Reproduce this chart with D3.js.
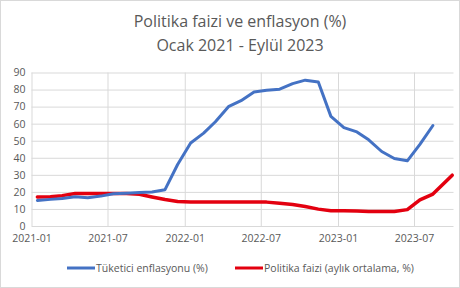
<!DOCTYPE html>
<html lang="tr">
<head>
<meta charset="UTF-8">
<title>Politika faizi ve enflasyon</title>
<script src="https://cdn.jsdelivr.net/npm/d3@7"></script>
<style>
  body { margin: 0; background: #fff; }
  svg text { font-family: "Open Sans", "Liberation Sans", sans-serif; fill: #595959; }
</style>
</head>
<body>
<div id="container"></div>
<script>
// months (data points sit mid-month)
const months = ["2021-01","2021-02","2021-03","2021-04","2021-05","2021-06","2021-07","2021-08","2021-09","2021-10","2021-11","2021-12",
  "2022-01","2022-02","2022-03","2022-04","2022-05","2022-06","2022-07","2022-08","2022-09","2022-10","2022-11","2022-12",
  "2023-01","2023-02","2023-03","2023-04","2023-05","2023-06","2023-07","2023-08","2023-09"]
// tuketici enflasyonu, yillik %
const cpi = [14.97,15.61,16.19,17.14,16.59,17.53,18.95,19.25,19.58,19.89,21.31,36.08,
  48.69,54.44,61.14,69.97,73.50,78.62,79.60,80.21,83.45,85.51,84.39,64.27,
  57.68,55.18,50.51,43.68,39.59,38.21,47.83,58.94]
// politika faizi, aylik ortalama %
const policy = [17,17.2,17.8,19,19,19,19,19,18.6,17,15.5,14.4,
  14,14,14,14,14,14,14,13.4,12.6,11.4,9.9,9,
  9,8.8,8.5,8.5,8.5,9.6,15.3,18.7,29.8]
// the last policy point is plotted at month end
const policyLastDate = "2023-09-30"
const xTicks = ["2021-01","2021-07","2022-01","2022-07","2023-01","2023-07"]
const yTicks = [0,10,20,30,40,50,60,70,80,90]
const seriesNames = ["Tüketici enflasyonu (%)", "Politika faizi (aylık ortalama, %)"]

const w = 460, h = 288
const parse = d3.utcParse("%Y-%m-%d")
const mid = m => parse(m + "-15")

const svg = d3.select("#container").append("svg").attr("width", w).attr("height", h)

// chart border
svg.append("rect").attr("x", 0.5).attr("y", 0.5).attr("width", w - 1).attr("height", h - 1)
  .attr("fill", "#fff").attr("stroke", "#d9d9d9")

// title
svg.append("text").attr("x", 240).attr("y", 27).attr("text-anchor", "middle")
  .style("font-size", "16px").text("Politika faizi ve enflasyon (%)")
svg.append("text").attr("x", 240).attr("y", 51).attr("text-anchor", "middle")
  .style("font-size", "16px").text("Ocak 2021 - Eylül 2023")

const x = d3.scaleUtc([parse("2021-01-01"), parse("2023-10-03")], [31.5, 453.5])
const y = d3.scaleLinear([0, 90], [226, 72.5])

// horizontal grid + y labels
const yAx = svg.append("g").attr("transform", "translate(31.5,0)")
  .call(d3.axisLeft(y).tickValues(yTicks).tickSize(-(453.5 - 31.5)).tickPadding(6))
yAx.select(".domain").remove()
yAx.selectAll(".tick line").attr("stroke", "#d9d9d9")
yAx.selectAll(".tick text").style("font-size", "10.5px")

// vertical grid + x labels
const xAx = svg.append("g").attr("transform", "translate(0,226)")
  .call(d3.axisBottom(x).tickValues(xTicks.map(t => parse(t + "-01")))
    .tickFormat(d3.utcFormat("%Y-%m")).tickSize(-(226 - 72.5)).tickPadding(9))
xAx.select(".domain").remove()
xAx.selectAll(".tick line").attr("stroke", "#d9d9d9")
xAx.selectAll(".tick text").style("font-size", "10.5px")

const cpiData = cpi.map((v, i) => ({ d: mid(months[i]), v }))
const polData = policy.map((v, i) => ({ d: i === policy.length - 1 ? parse(policyLastDate) : mid(months[i]), v }))

const line = d3.line().x(p => x(p.d)).y(p => y(p.v))

svg.append("path").datum(polData).attr("d", line).attr("fill", "none")
  .attr("stroke", "#e3000f").attr("stroke-width", 3.5).attr("stroke-linejoin", "round").attr("stroke-linecap", "round")
svg.append("path").datum(cpiData).attr("d", line).attr("fill", "none")
  .attr("stroke", "#4472c4").attr("stroke-width", 3).attr("stroke-linejoin", "round").attr("stroke-linecap", "round")

// legend
const legend = [
  { name: seriesNames[0], color: "#4472c4", x0: 67, x1: 95 },
  { name: seriesNames[1], color: "#e3000f", x0: 235, x1: 263 }
]
const lg = svg.append("g").selectAll("g").data(legend).enter().append("g")
lg.append("line").attr("x1", d => d.x0).attr("x2", d => d.x1).attr("y1", 268).attr("y2", 268)
  .attr("stroke", d => d.color).attr("stroke-width", 3)
lg.append("text").attr("x", d => d.x1 + 1).attr("y", 272).style("font-size", "10.5px").text(d => d.name)
</script>
</body>
</html>
